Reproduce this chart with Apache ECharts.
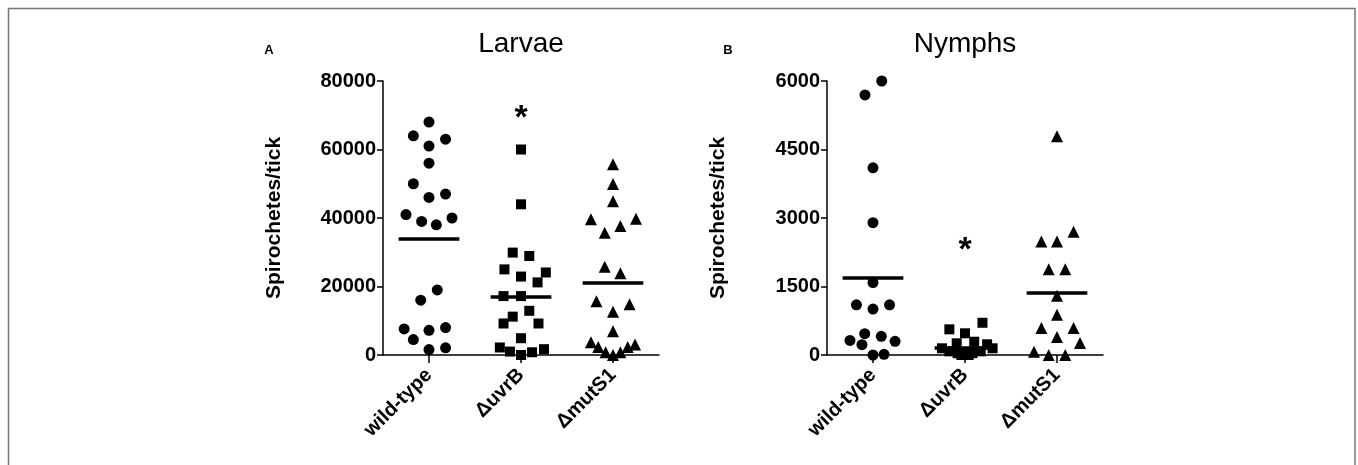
<!DOCTYPE html>
<html>
<head>
<meta charset="utf-8">
<script src="https://cdn.jsdelivr.net/npm/echarts@6/dist/echarts.min.js"></script>
<style>
html, body { margin: 0; padding: 0; background: #fff; }
#main { width: 1358px; height: 465px; }
</style>
</head>
<body>
<div id="main"></div>
<script>
// categories on the x axis
const categories = ['wild-type', 'ΔuvrB', 'ΔmutS1'];

// each point: [category position + jitter, spirochetes per tick]
const larvaeWildType = [
    [0, 68000], [-0.17, 64000], [0.18, 63000], [0, 61000], [0, 56000],
    [-0.17, 50000], [0, 46000], [0.18, 47000], [-0.25, 41000], [-0.08, 39000],
    [0.08, 38000], [0.25, 40000], [0.09, 19000], [-0.09, 16000], [-0.27, 7600],
    [0, 7200], [0.18, 8000], [-0.17, 4500], [0, 1600], [0.18, 2100]
];
const larvaeUvrB = [
    [1, 60000], [1, 44000], [0.91, 29900], [1.09, 28900], [0.82, 25000],
    [1.27, 24100], [1, 22900], [1.18, 21200], [0.81, 17200], [1, 17200],
    [1.09, 12900], [0.91, 11200], [0.81, 9200], [1.19, 9200], [1, 4900],
    [0.77, 2200], [0.88, 1000], [1, 0], [1.12, 800], [1.25, 1700]
];
const larvaeMutS1 = [
    [2, 55700], [2, 49900], [2, 44900], [1.76, 39600], [2.25, 39800],
    [2.08, 37700], [1.91, 35700], [1.91, 25800], [2.08, 23900], [1.82, 15700],
    [2.18, 14800], [2, 12600], [2, 6900], [1.76, 3700], [2.24, 3100],
    [1.84, 2300], [2.16, 2300], [1.92, 800], [2.08, 800], [2, 0]
];
const larvaeMeans = [34000, 17100, 21000];
const larvaeStar = [[1, 71300]];

const nymphWildType = [
    [0.095, 6000], [-0.087, 5694], [0, 4100], [0, 2898], [0, 1587],
    [-0.18, 1100], [0, 1005], [0.18, 1100], [-0.09, 466], [0.09, 408],
    [-0.25, 320], [-0.12, 226], [0.24, 299], [0, 0], [0.12, 15]
];
const nymphUvrB = [
    [1.19, 706], [0.83, 562], [1, 475], [1.1, 291], [0.91, 256],
    [1.24, 234], [0.75, 147], [1.3, 147], [0.83, 80], [0.92, 40],
    [1, 20], [1.08, 40], [1.17, 80], [0.96, 0], [1.04, 0]
];
const nymphMutS1 = [
    [2, 4791], [2.18, 2701], [1.83, 2483], [2, 2483], [1.91, 1879],
    [2.09, 1879], [2, 1296], [2, 881], [1.83, 590], [2.18, 590],
    [2, 393], [2.25, 262], [1.75, 73], [1.91, 0], [2.09, 0]
];
const nymphMeans = [1682, 150, 1369];
const nymphStar = [[1, 2461]];

const FONT = '"Liberation Sans", Arial, sans-serif';
const HALF = 0.33; // half width of the mean bar, in category units

var myChart = echarts.init(document.getElementById('main'));

function catAxis(grid) {
    return {
        type: 'category',
        gridIndex: grid,
        data: categories,
        boundaryGap: true,
        axisLine: { show: true, onZero: false, lineStyle: { color: '#000', width: 1.5 } },
        axisTick: { show: true, alignWithLabel: true, length: 8, lineStyle: { color: '#000', width: 1.5 } },
        axisLabel: { rotate: 45, margin: 17, color: '#000', fontFamily: FONT, fontWeight: 'bold', fontSize: 20 },
        splitLine: { show: false }
    };
}
function valXAxis(grid) {
    return { type: 'value', gridIndex: grid, min: -0.5, max: 2.5, show: false };
}
function yAxis(grid, max, step) {
    return {
        type: 'value',
        gridIndex: grid,
        min: 0, max: max, interval: step,
        name: 'Spirochetes/tick',
        nameLocation: 'middle',
        nameGap: 98,
        nameTextStyle: { color: '#000', fontFamily: FONT, fontWeight: 'bold', fontSize: 21 },
        axisLine: { show: true, onZero: false, lineStyle: { color: '#000', width: 1.5 } },
        axisTick: { show: true, length: 6, lineStyle: { color: '#000', width: 1.5 } },
        axisLabel: { margin: 7, color: '#000', fontFamily: FONT, fontWeight: 'bold', fontSize: 20,
                     formatter: function (v) { return String(v); } },
        splitLine: { show: false }
    };
}
function group(xIdx, yIdx, data, symbol, size, idx, means) {
    return {
        type: 'scatter',
        xAxisIndex: xIdx, yAxisIndex: yIdx,
        symbol: symbol, symbolSize: size,
        itemStyle: { color: '#000', opacity: 1 },
        data: data,
        silent: true,
        markLine: {
            silent: true,
            symbol: ['none', 'none'],
            label: { show: false },
            lineStyle: { color: '#000', width: 3.5, type: 'solid', opacity: 1 },
            data: [[{ coord: [idx - HALF, means[idx]] }, { coord: [idx + HALF, means[idx]] }]]
        }
    };
}
function star(xIdx, yIdx, data) {
    return {
        type: 'scatter',
        xAxisIndex: xIdx, yAxisIndex: yIdx,
        symbol: 'circle',
        symbolSize: 0.1,
        itemStyle: { color: '#000', opacity: 1 },
        data: data,
        silent: true,
        label: { show: true, position: 'inside', formatter: '*', offset: [0, 8], opacity: 1,
                 color: '#000', fontFamily: FONT, fontWeight: 'bold', fontSize: 34 }
    };
}

var option = {
    animation: false,
    backgroundColor: '#fff',
    grid: [
        { left: 383, top: 81, width: 276, height: 274 },
        { left: 827, top: 81, width: 276, height: 274 }
    ],
    xAxis: [catAxis(0), valXAxis(0), catAxis(1), valXAxis(1)],
    yAxis: [yAxis(0, 80000, 20000), yAxis(1, 6000, 1500)],
    series: [
        group(1, 0, larvaeWildType, 'circle', 11, 0, larvaeMeans),
        group(1, 0, larvaeUvrB, 'rect', 10, 1, larvaeMeans),
        group(1, 0, larvaeMutS1, 'triangle', 12, 2, larvaeMeans),
        star(1, 0, larvaeStar),
        group(3, 1, nymphWildType, 'circle', 11, 0, nymphMeans),
        group(3, 1, nymphUvrB, 'rect', 10, 1, nymphMeans),
        group(3, 1, nymphMutS1, 'triangle', 12, 2, nymphMeans),
        star(3, 1, nymphStar)
    ],
    graphic: [
        { type: 'rect', shape: { x: 8.5, y: 8.5, width: 1346.5, height: 480 },
          style: { fill: 'none', stroke: '#777', lineWidth: 1.5 }, silent: true },
        { type: 'text', x: 521, y: 44, style: { text: 'Larvae', align: 'center', verticalAlign: 'middle',
          font: '28px ' + FONT, fill: '#000' } },
        { type: 'text', x: 965, y: 44, style: { text: 'Nymphs', align: 'center', verticalAlign: 'middle',
          font: '28px ' + FONT, fill: '#000' } },
        { type: 'text', x: 269, y: 50, style: { text: 'A', align: 'center', verticalAlign: 'middle',
          font: 'bold 13px ' + FONT, fill: '#000' } },
        { type: 'text', x: 728, y: 50, style: { text: 'B', align: 'center', verticalAlign: 'middle',
          font: 'bold 13px ' + FONT, fill: '#000' } }
    ]
};
myChart.setOption(option);
</script>
</body>
</html>
